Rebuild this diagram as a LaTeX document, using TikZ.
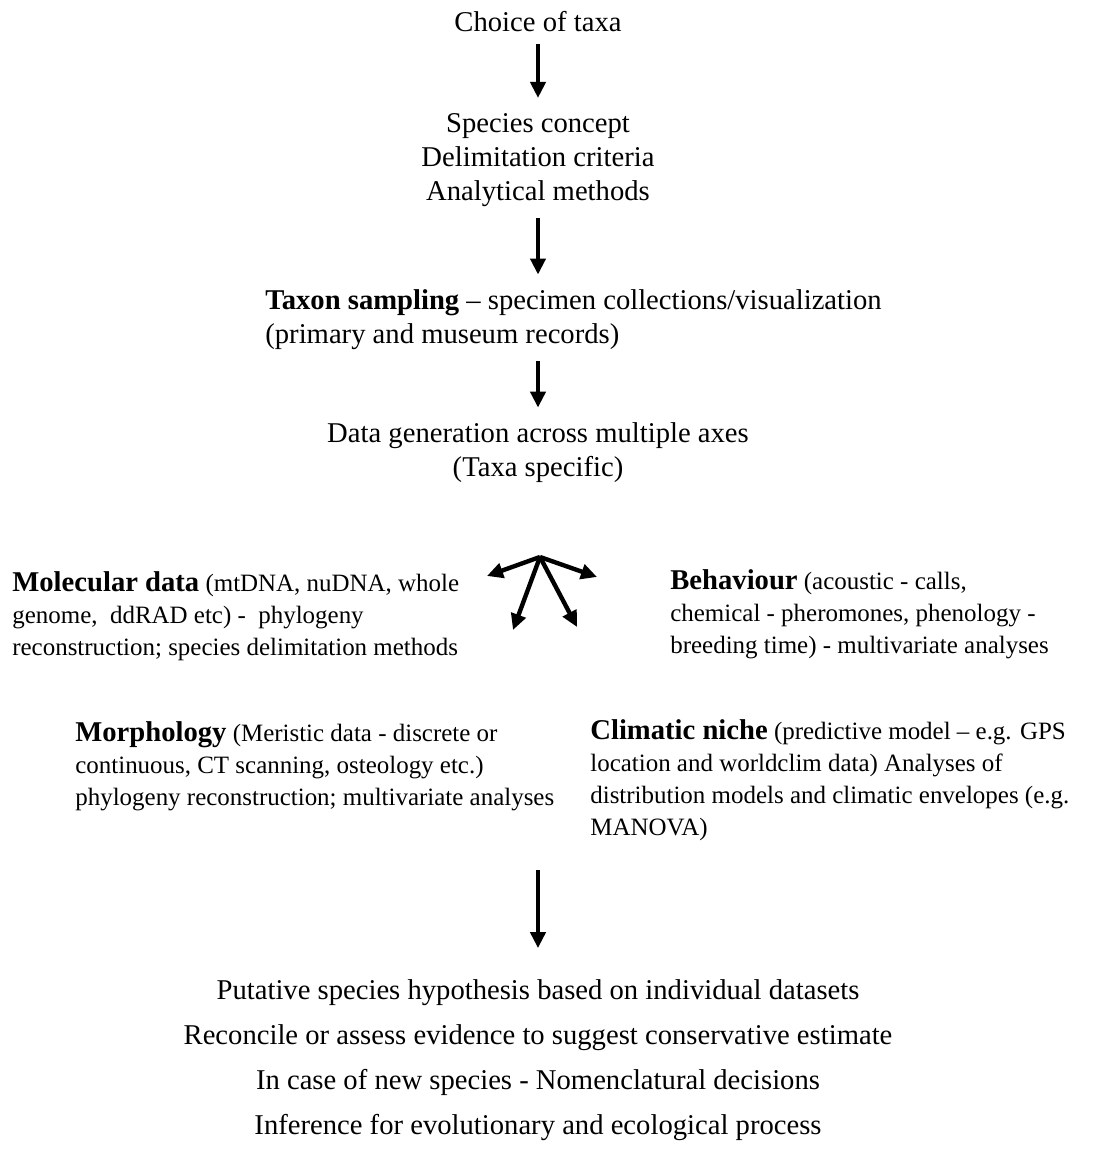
\documentclass[tikz,border=0pt]{standalone}
\usepackage{fontspec}
\setmainfont{Liberation Serif}
\usetikzlibrary{arrows.meta, positioning, calc}

\begin{document}
\begin{tikzpicture}[
    main/.style={inner sep=0pt, align=center,
        font=\fontsize{16.3}{19.4}\selectfont},
    side/.style={inner sep=0pt, align=left, anchor=west,
        font=\fontsize{14.2}{18.2}\selectfont},
    arr/.style={-{Triangle[length=0.32cm, width=0.3cm]}, line width=2.5pt,
        shorten <=0.22cm, shorten >=0.3cm}
]
\useasboundingbox (0,0) rectangle (21.9,23.18);

% Top chain
\node[main] (choice) at (10.76, 22.74) {Choice of taxa};
\node[main] (concept) at (10.76, 19.98) {Species concept\\Delimitation criteria\\Analytical methods};
\node[main, align=left, anchor=west] (taxon) at (5.3, 16.78)
    {{\bfseries Taxon sampling} -- specimen collections/visualization\\(primary and museum records)};
\node[main] (data) at (10.76, 14.12) {Data generation across multiple axes\\(Taxa specific)};

% Data axes
\node[side] (mol) at (0.24, 10.86)
    {{\fontsize{16.3}{18.2}\selectfont\bfseries Molecular data} (mtDNA, nuDNA, whole\\
     genome,\ \ ddRAD etc) -\ \ phylogeny\\
     reconstruction; species delimitation methods};
\node[side] (beh) at (13.4, 10.9)
    {{\fontsize{16.3}{18.2}\selectfont\bfseries Behaviour} (acoustic - calls,\\
     chemical - pheromones, phenology -\\
     breeding time) - multivariate analyses};
\node[side] (morph) at (1.5, 7.86)
    {{\fontsize{16.3}{18.2}\selectfont\bfseries Morphology} (Meristic data - discrete or\\
     continuous, CT scanning, osteology etc.)\\
     phylogeny reconstruction; multivariate analyses};
\node[side] (clim) at (11.8, 7.58)
    {{\fontsize{16.3}{18.2}\selectfont\bfseries Climatic niche} (predictive model -- e.g. GPS\\
     location and worldclim data) Analyses of\\
     distribution models and climatic envelopes (e.g.\\
     MANOVA)};

% Outcome
\node[main, font=\fontsize{16.3}{25.6}\selectfont] (result) at (10.76, 1.98)
    {Putative species hypothesis based on individual datasets\\
     Reconcile or assess evidence to suggest conservative estimate\\
     In case of new species - Nomenclatural decisions\\
     Inference for evolutionary and ecological process};

% Fan of arrows
\coordinate (hub) at (10.8, 12.04);
\coordinate (molTip) at (9.74, 11.66);
\coordinate (behTip) at (11.94, 11.64);
\coordinate (morTip) at (10.26, 10.58);
\coordinate (climTip) at (11.54, 10.64);
\coordinate (join) at (10.76, 5.78);

% Arrows
\draw[arr] (choice.south) -- (concept.north);
\draw[arr] (concept.south) -- (concept.south |- taxon.north);
\draw[arr] (concept.south |- taxon.south) -- (data.north);
\foreach \t in {molTip, behTip, morTip, climTip}
    \draw[arr, shorten <=0pt, shorten >=0pt] (hub) -- (\t);
\draw[arr, shorten <=0pt, shorten >=0.62cm] (join) -- (result.north);

\end{tikzpicture}
\end{document}
